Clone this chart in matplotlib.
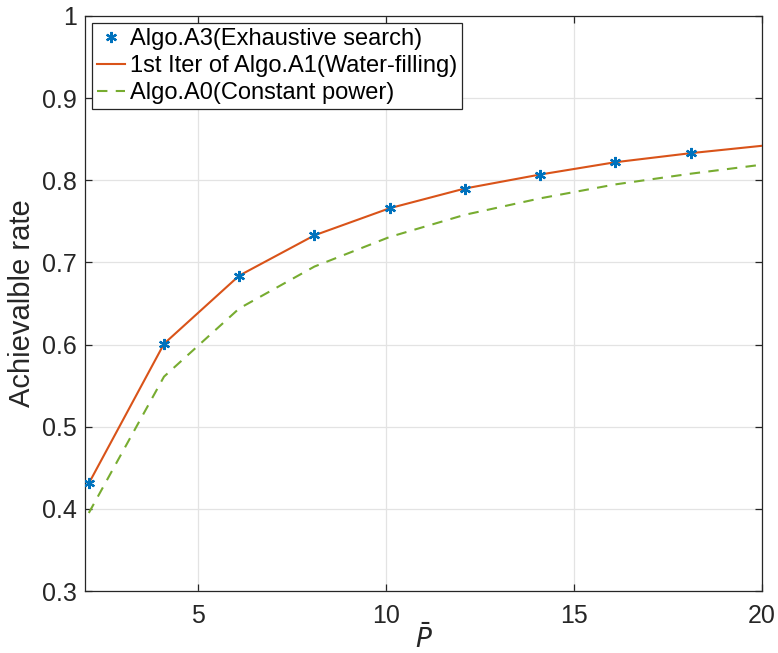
import numpy as np
import matplotlib
matplotlib.use("Agg")
from matplotlib import pyplot as plt

plt.rcParams['font.family'] = ['Liberation Sans', 'DejaVu Sans']
plt.rcParams['mathtext.fontset'] = 'dejavusans'

# data
p_bar = [2.1, 4.1, 6.1, 8.1, 10.1, 12.1, 14.1, 16.1, 18.1, 20.0]
rate_a3 = [0.431, 0.601, 0.684, 0.733, 0.766, 0.790, 0.807, 0.822, 0.833]
rate_a1 = [0.431, 0.601, 0.684, 0.733, 0.766, 0.790, 0.807, 0.822, 0.833, 0.842]
rate_a0 = [0.395, 0.561, 0.644, 0.695, 0.731, 0.758, 0.778, 0.795, 0.808, 0.819]

labels = ['Algo.A3(Exhaustive search)',
          '1st Iter of Algo.A1(Water-filling)',
          'Algo.A0(Constant power)']

fig = plt.figure(figsize=(7.78, 6.53), dpi=100)
ax = fig.add_axes([0.1093, 0.0949, 0.8701, 0.8806])

ax.plot(p_bar[:len(rate_a3)], rate_a3, linestyle='none', marker=(6, 2, 0),
        markersize=8, markeredgewidth=1.6, color='#0072BD', label=labels[0], zorder=4)
ax.plot(p_bar, rate_a1, '-', color='#D95319', linewidth=1.5, label=labels[1], zorder=3)
ax.plot(p_bar, rate_a0, '--', color='#77AC30', linewidth=1.5, dashes=(5, 4),
        label=labels[2], zorder=3)

ax.set_xlim(2, 20)
ax.set_ylim(0.3, 1)
ax.set_xticks([5, 10, 15, 20])
ax.set_yticks([0.3, 0.4, 0.5, 0.6, 0.7, 0.8, 0.9, 1.0])
ax.set_yticklabels(['0.3', '0.4', '0.5', '0.6', '0.7', '0.8', '0.9', '1'])
ax.grid(True, color='#e3e3e3', linewidth=0.9)
ax.set_axisbelow(True)

for s in ax.spines.values():
    s.set_color('#262626')
    s.set_linewidth(0.9)
ax.tick_params(direction='in', length=5, width=0.9, colors='#262626',
               labelsize=18, top=True, right=True)
ax.tick_params(axis='x', pad=9)
ax.tick_params(axis='y', pad=6)
for t in ax.get_xticklabels() + ax.get_yticklabels():
    t.set_color('#262626')

ax.set_xlabel(r'$\bar{P}$', fontsize=19, color='#262626', labelpad=-3)
ax.set_ylabel('Achievalble rate', fontsize=21, color='#262626', labelpad=4)

leg = ax.legend(loc='upper left', bbox_to_anchor=(0.0, 1.0), fontsize=17,
                frameon=True, fancybox=False, edgecolor='#262626', framealpha=1,
                borderpad=0.2, labelspacing=0.22, handlelength=1.2,
                handletextpad=0.2, borderaxespad=0.3)
leg.get_frame().set_linewidth(0.9)

fig.savefig('out.png', dpi=100)
